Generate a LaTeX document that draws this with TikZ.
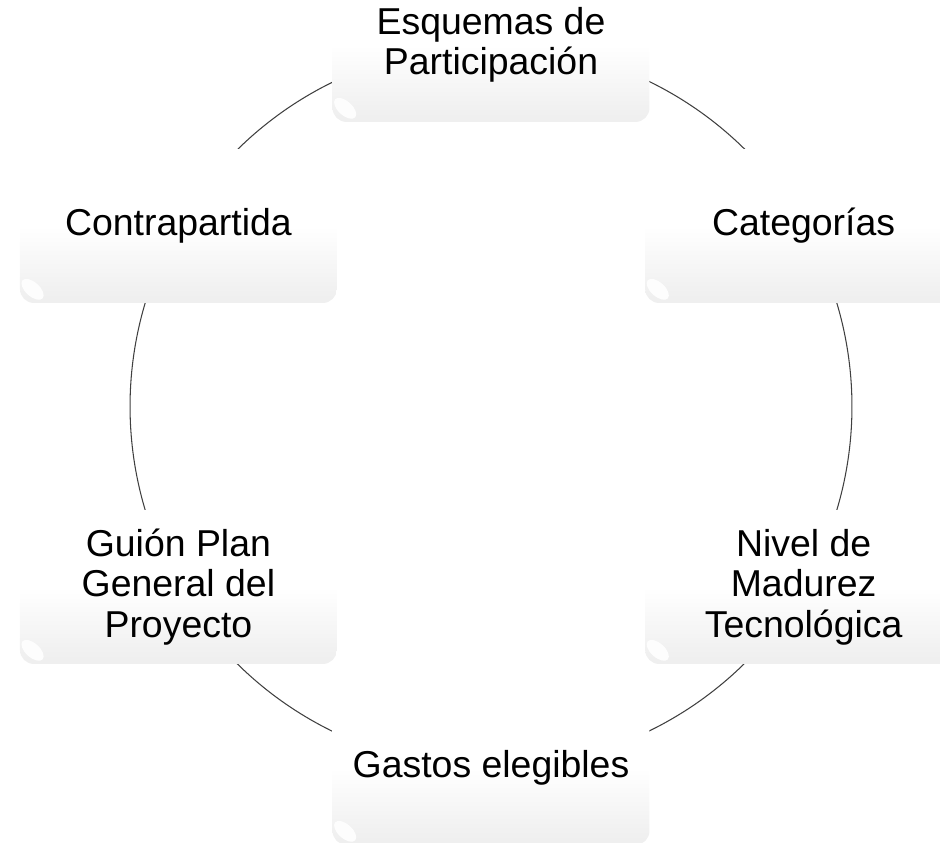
\documentclass[tikz,border=0pt]{standalone}
\usepackage{fontspec}
\setmainfont{Liberation Sans}
\usetikzlibrary{backgrounds}
\usetikzlibrary{shapes.geometric}
\definecolor{kastengrau}{rgb}{0.90,0.90,0.90}
\definecolor{bogengrau}{rgb}{0.25,0.25,0.25}
\pgfdeclareverticalshading{kastenverlauf}{100bp}{color(0bp)=(kastengrau); color(28bp)=(kastengrau!60!white); color(50bp)=(white); color(100bp)=(white)}

\begin{document}
\begin{tikzpicture}[x=0.02cm, y=0.02cm,
  kasten/.style={rectangle, rounded corners=8pt, shading=kastenverlauf,
    minimum width=6.34cm, minimum height=3.08cm, inner sep=0pt, align=center,
    font=\fontsize{21.3}{23}\selectfont},
  glanz/.style={ellipse, fill=white, fill opacity=0.9, inner sep=0pt,
    minimum width=0.54cm, minimum height=0.28cm, rotate=-42},
  bogen/.style={draw=bogengrau, line width=0.6pt}]
\useasboundingbox (0,0) rectangle (940,842);
% the six boxes
\node[kasten] (esquemas) at (491,797) {Esquemas de\\Participación};
\node[kasten] (categorias) at (803.6,616) {Categorías};
\node[kasten] (nivel) at (803.6,255) {Nivel de\\Madurez\\Tecnológica};
\node[kasten] (gastos) at (491,74) {Gastos elegibles};
\node[kasten] (guion) at (178.4,255) {Guión Plan\\General del\\Proyecto};
\node[kasten] (contra) at (178.4,616) {Contrapartida};
% gloss in the lower left corners
\node[glanz] (glanz1) at ([shift={(13,14)}]esquemas.south west) {};
\node[glanz] (glanz2) at ([shift={(13,14)}]categorias.south west) {};
\node[glanz] (glanz3) at ([shift={(13,14)}]nivel.south west) {};
\node[glanz] (glanz4) at ([shift={(13,14)}]gastos.south west) {};
\node[glanz] (glanz5) at ([shift={(13,14)}]guion.south west) {};
\node[glanz] (glanz6) at ([shift={(13,14)}]contra.south west) {};
% cycle
\begin{scope}[on background layer]
\draw[bogen] (esquemas.center) arc[start angle=90, end angle=30, radius=361];
\draw[bogen] (categorias.center) arc[start angle=30, end angle=-30, radius=361];
\draw[bogen] (nivel.center) arc[start angle=-30, end angle=-90, radius=361];
\draw[bogen] (gastos.center) arc[start angle=270, end angle=210, radius=361];
\draw[bogen] (guion.center) arc[start angle=210, end angle=150, radius=361];
\draw[bogen] (contra.center) arc[start angle=150, end angle=90, radius=361];
\end{scope}
\end{tikzpicture}
\end{document}
